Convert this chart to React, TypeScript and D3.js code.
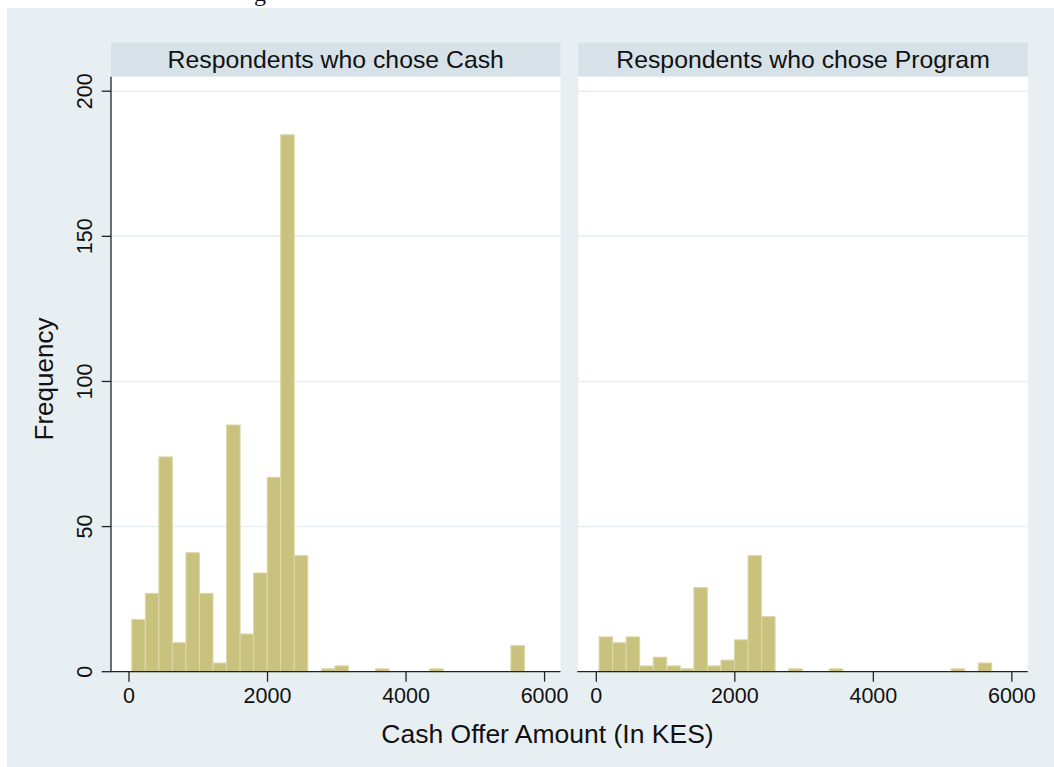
import React from "react";
import * as d3 from "d3";

// ---- data ----
const binStart = 40; // KES, left edge of first bin
const binWidth = 195.5; // KES
const cashCounts = [18, 27, 74, 10, 41, 27, 3, 85, 13, 34, 67, 185, 40, 0, 1, 2, 0, 0, 1, 0, 0, 0, 1, 0, 0, 0, 0, 0, 9];
const programCounts = [12, 10, 12, 2, 5, 2, 1, 29, 2, 4, 11, 40, 19, 0, 1, 0, 0, 1, 0, 0, 0, 0, 0, 0, 0, 0, 1, 0, 3];
const panelTitles = ["Respondents who chose Cash", "Respondents who chose Program"];
const xTicks = [0, 2000, 4000, 6000];
const yTicks = [0, 50, 100, 150, 200];
const gridTicks = [50, 100, 150, 200];
const xTitle = "Cash Offer Amount (In KES)";
const yTitle = "Frequency";

const FONT = "'Liberation Sans', Arial, Helvetica, sans-serif";
const W = 1054;
const H = 767;
const panelLefts = [111, 578.3];
const panelW = 449.5;
const stripTop = 42.7;
const plotTop = 76.7;
const plotBottom = 671.7;

export default function App() {
  const y = d3.scaleLinear().domain([0, 205]).range([plotBottom, plotTop]);
  const panels = [cashCounts, programCounts];

  return (
    <svg
      width={W}
      height={H}
      style={{ position: "absolute", left: 0, top: 0 }}
      fontFamily={FONT}
    >
      <rect x={0} y={0} width={W} height={H} fill="#ffffff" />
      <text x={254} y={1} fontFamily="'Liberation Serif', serif" fontSize={24} fill="#111">g</text>
      <rect x={7} y={8} width={W - 7} height={H - 8} fill="#e8eff2" />

      {panels.map((counts, pi) => {
        const left = panelLefts[pi];
        const x = d3.scaleLinear().domain([-260, 6230]).range([left, left + panelW]);
        const bins = counts.map((c, i) => ({ x0: binStart + i * binWidth, x1: binStart + (i + 1) * binWidth, c }));
        return (
          <g key={pi}>
            {/* strip */}
            <rect x={left} y={stripTop} width={panelW} height={plotTop - stripTop} fill="#d6e2e8" />
            <text
              x={left + panelW / 2}
              y={68}
              textAnchor="middle"
              fontSize={24.8}
              fill="#111"
            >
              {panelTitles[pi]}
            </text>
            {/* plot region */}
            <rect x={left} y={plotTop} width={panelW} height={plotBottom - plotTop} fill="#ffffff" />
            {gridTicks.map((t) => (
              <line key={t} x1={left} x2={left + panelW} y1={y(t)} y2={y(t)} stroke="#e6eef1" strokeWidth={1.5} />
            ))}
            {bins
              .filter((b) => b.c > 0)
              .map((b, i) => (
                <rect
                  key={i}
                  x={x(b.x0)}
                  y={y(b.c)}
                  width={x(b.x1) - x(b.x0)}
                  height={y(0) - y(b.c)}
                  fill="#c9c27f"
                  stroke="#ddd8a8"
                  strokeWidth={1}
                />
              ))}
            {/* x axis */}
            <line x1={left - (pi === 0 ? 0 : 1)} x2={left + panelW} y1={plotBottom} y2={plotBottom} stroke="#222" strokeWidth={1.3} />
            {xTicks.map((t) => (
              <g key={t}>
                <line x1={x(t)} x2={x(t)} y1={plotBottom} y2={plotBottom + 10} stroke="#222" strokeWidth={1.3} />
                <text x={x(t)} y={702.5} textAnchor="middle" fontSize={21.5} fill="#111">
                  {t}
                </text>
              </g>
            ))}
            {/* y axis only on first panel */}
            {pi === 0 && (
              <g>
                <line x1={left} x2={left} y1={plotTop} y2={plotBottom} stroke="#222" strokeWidth={1.3} />
                {yTicks.map((t) => (
                  <g key={t}>
                    <line x1={left - 9.3} x2={left} y1={y(t)} y2={y(t)} stroke="#222" strokeWidth={1.3} />
                    <text
                      transform={`translate(92,${y(t)}) rotate(-90)`}
                      textAnchor="middle"
                      fontSize={21.5}
                      fill="#111"
                    >
                      {t}
                    </text>
                  </g>
                ))}
              </g>
            )}
          </g>
        );
      })}

      <text x={547.5} y={743} textAnchor="middle" fontSize={26.5} fill="#111">
        {xTitle}
      </text>
      <text transform={`translate(53,379) rotate(-90)`} textAnchor="middle" fontSize={26} fill="#111">
        {yTitle}
      </text>
    </svg>
  );
}
